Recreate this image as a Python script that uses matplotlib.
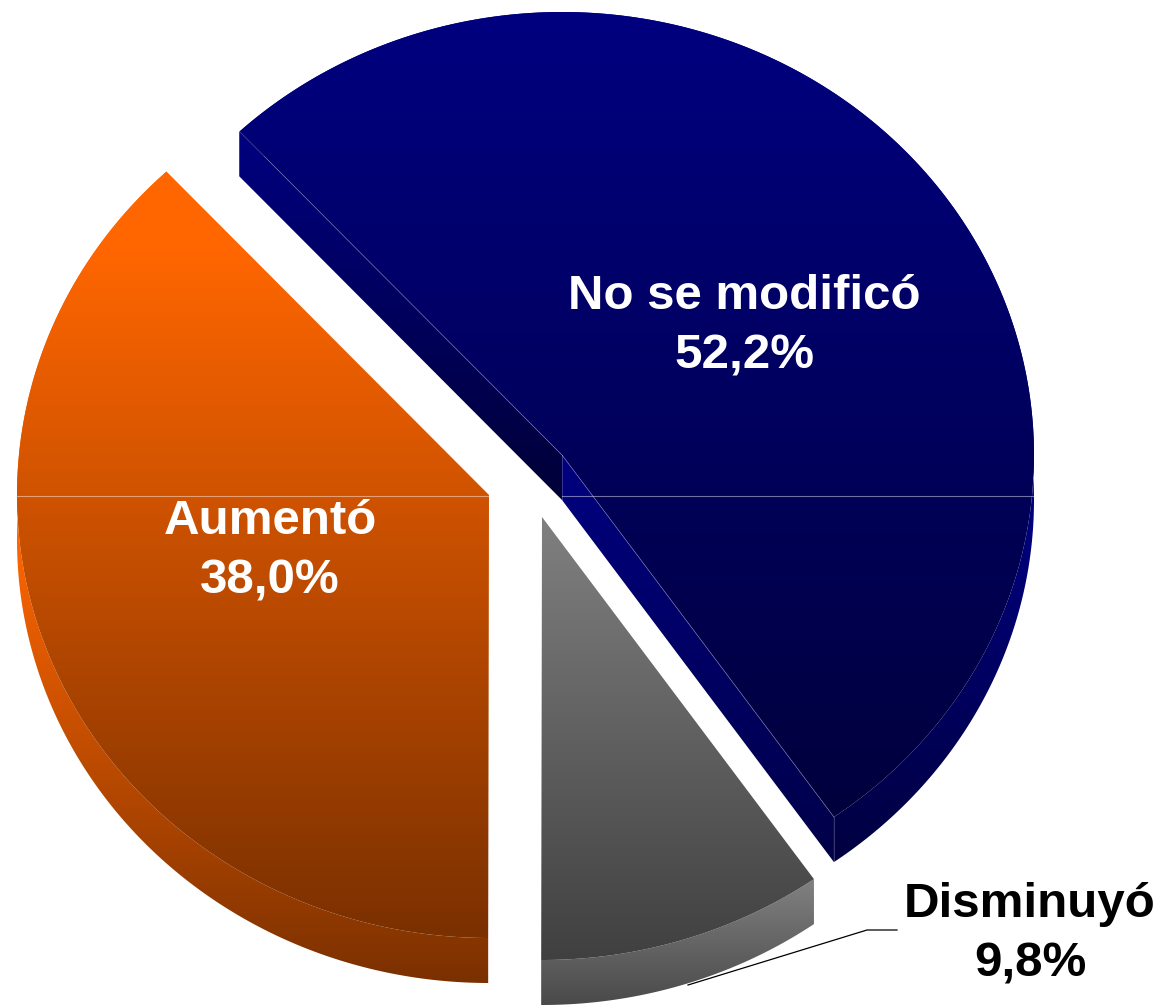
import numpy as np
import matplotlib
matplotlib.use('Agg')
import matplotlib.pyplot as plt
from matplotlib.patches import Polygon

labels = ['No se modificó', 'Disminuyó', 'Aumentó']
values = [52.2, 9.8, 38.0]
valueLabels = ['52,2%', '9,8%', '38,0%']

startAngle = 133.1
rx = 472
ry = 443
depth = 45

# exploded apex of each slice, in pixels
apexes = [(562, 455), (542, 517), (489, 495)]
labelPos = [(744, 326), (1030, 934), (270, 551)]
labelColors = ['white', 'black', 'white']

# gradient colours: top face (start, end, y from, y to), outer side, cut sides
faceGrad = [('#000080', '#00003c', 12, 818), ('#808080', '#404040', 517, 960), ('#ff6600', '#7a3000', 250, 938)]
wallGrad = [('#000080', '#000040', 497, 863), ('#808080', '#4a4a4a', 881, 1004), ('#ff6600', '#7a3000', 540, 984)]


def hexToRgb(c):
	return np.array(matplotlib.colors.to_rgb(c))

def fillGradient(ax, pts, grad, z):
	c0, c1, y0, y1 = grad
	# ramp is held flat outside y0..y1
	t = np.clip((np.arange(1005) + 0.5 - y0) / (y1 - y0), 0, 1)[:, None, None]
	img = hexToRgb(c0)[None, None, :] * (1 - t) + hexToRgb(c1)[None, None, :] * t
	poly = Polygon(pts, closed=True, facecolor='none', edgecolor='none', zorder=z)
	ax.add_patch(poly)
	im = ax.imshow(img, extent=(0, 1162, 1005, 0), aspect='auto', zorder=z, interpolation='nearest')
	im.set_clip_path(poly)

def arcPoints(apex, a0, a1):
	ang = np.radians(np.linspace(a0, a1, 300))
	return np.column_stack([apex[0] + rx * np.cos(ang), apex[1] - ry * np.sin(ang)])


fig = plt.figure(figsize=(11.62, 10.05), dpi=100)
ax = fig.add_axes([0, 0, 1, 1])

angle = startAngle
for i in [0, 1, 2]:
	a0 = angle
	a1 = angle - values[i] / sum(values) * 360
	angle = a1
	apex = np.array(apexes[i], dtype=float)
	arc = arcPoints(apex, a0, a1)
	down = np.array([0, depth])
	z = 2 + (2 - i) * 3 if i > 0 else 10

	# outer side
	wall = np.vstack([arc, (arc + down)[::-1]])
	fillGradient(ax, wall, wallGrad[i], z)

	# cut sides of the big slice are the only ones in view
	if i == 0:
		left = np.array([arc[0], apex, apex + down, arc[0] + down])
		fillGradient(ax, left, ('#000080', '#000038', 130, 497), z)
		right = np.array([apex, arc[-1], arc[-1] + down, apex + down])
		fillGradient(ax, right, ('#000080', '#000048', 455, 863), z + 0.1)

	# top face
	face = np.vstack([apex, arc])
	fillGradient(ax, face, faceGrad[i], z + 1)
	if i == 0:
		edge = (1, 1, 1, 0.22)
		ax.plot([arc[0, 0], apex[0], arc[-1, 0]], [arc[0, 1], apex[1], arc[-1, 1]], color=edge, linewidth=0.7, zorder=z + 1.1)
		ax.plot([apex[0], apex[0]], [apex[1], apex[1] + depth], color=edge, linewidth=0.7, zorder=z + 1.1)
		ax.plot([arc[-1, 0], arc[-1, 0]], [arc[-1, 1], arc[-1, 1] + depth], color=edge, linewidth=0.7, zorder=z + 1.1)

# seam across the two big slices
ax.plot([17, 489], [496, 496], color=(1, 1, 1, 0.45), linewidth=0.8, zorder=12)
ax.plot([562, 1034], [496, 496], color=(1, 1, 1, 0.45), linewidth=0.8, zorder=12)

# leader of the small slice
ax.plot([897, 867, 688], [930, 930, 985], color='black', linewidth=0.9, zorder=9)

for i in range(3):
	ax.text(labelPos[i][0], labelPos[i][1], labels[i] + '\n' + valueLabels[i], color=labelColors[i],
		family='Liberation Sans', fontweight='bold', fontsize=35.5, ha='center', va='center',
		linespacing=1.41, zorder=20)

ax.set_xlim(0, 1162)
ax.set_ylim(1005, 0)
ax.axis('off')
fig.savefig('out.png', dpi=100, facecolor='white')
